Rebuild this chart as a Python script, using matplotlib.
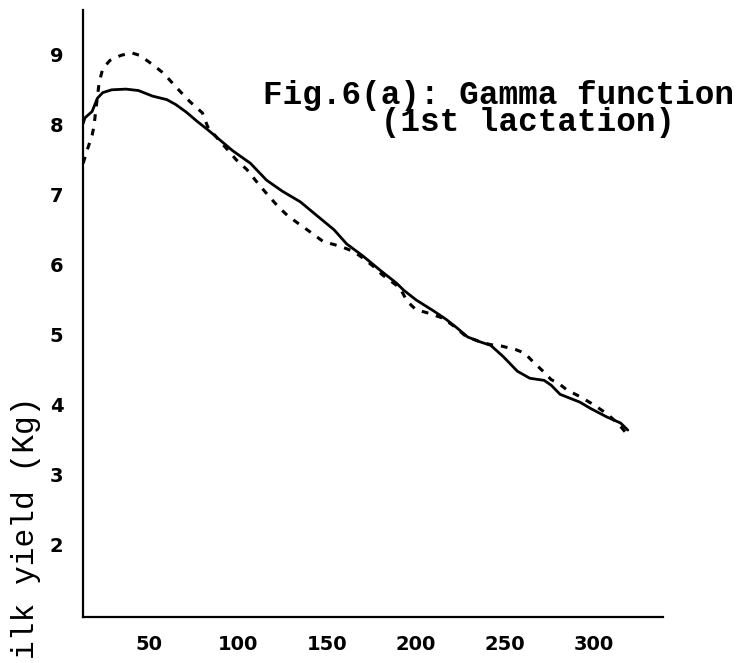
import numpy as np
import matplotlib.pyplot as plt

# solid curve (days, milk yield in kg)
solid_days = [13, 14, 18, 21, 24, 29, 37, 44, 52, 60, 65, 71, 77, 83, 90, 97,
              107, 116, 125, 135, 144, 154, 161, 170, 180, 189, 193, 200, 210,
              217, 223, 229, 236, 242, 249, 257, 264, 272, 276, 281, 292, 298,
              307, 315, 319]
solid_yield = [8.02, 8.10, 8.19, 8.38, 8.46, 8.50, 8.51, 8.49, 8.41, 8.36, 8.29,
               8.18, 8.05, 7.93, 7.78, 7.63, 7.45, 7.21, 7.05, 6.90, 6.71, 6.50,
               6.30, 6.13, 5.92, 5.74, 5.64, 5.50, 5.34, 5.22, 5.10, 4.97, 4.90,
               4.85, 4.69, 4.48, 4.38, 4.35, 4.28, 4.15, 4.04, 3.95, 3.83, 3.74,
               3.64]

# dashed curve
dash_days = [13, 15, 18, 19, 21, 22, 24, 28, 34, 40, 45, 52, 58, 67, 73, 80, 83,
             90, 95, 99, 105, 111, 117, 123, 128, 135, 140, 148, 154, 159, 165,
             170, 176, 181, 191, 195, 200, 207, 215, 221, 228, 236, 242, 248,
             256, 261, 266, 271, 276, 280, 285, 292, 300, 308, 314, 319]
dash_yield = [7.45, 7.62, 7.85, 7.97, 8.40, 8.61, 8.80, 8.92, 8.99, 9.03, 8.99,
              8.86, 8.74, 8.49, 8.33, 8.17, 7.97, 7.76, 7.62, 7.50, 7.36, 7.17,
              6.99, 6.82, 6.70, 6.57, 6.48, 6.33, 6.29, 6.25, 6.19, 6.10, 5.98,
              5.86, 5.67, 5.48, 5.36, 5.31, 5.24, 5.13, 4.98, 4.90, 4.86, 4.84,
              4.79, 4.74, 4.61, 4.49, 4.36, 4.31, 4.21, 4.12, 4.00, 3.86, 3.72,
              3.57]

x_ticks = [50, 100, 150, 200, 250, 300]
y_ticks = [2, 3, 4, 5, 6, 7, 8, 9]

W, H = 740, 663
fig = plt.figure(figsize=(W / 100, H / 100), dpi=100)
ax = fig.add_axes([83 / W, 1 - 617 / H, (663 - 83) / W, (617 - 10) / H])

ax.plot(solid_days, solid_yield, color='black', lw=2.0, solid_capstyle='round')
ax.plot(dash_days, dash_yield, color='black', lw=2.2, linestyle=(0, (2.2, 2.6)))

ax.set_xlim(12.9, 338.8)
ax.set_ylim(0.97, 9.64)
ax.set_xticks(x_ticks)
ax.set_yticks(y_ticks)

tick_font = dict(family='DejaVu Sans', weight='bold', size=14)
ax.set_xticklabels([str(t) for t in x_ticks], **tick_font)
ax.set_yticklabels([str(t) for t in y_ticks], **tick_font)
ax.tick_params(axis='both', length=0)
ax.tick_params(axis='x', pad=13)
ax.tick_params(axis='y', pad=14)

for s in ['top', 'right']:
    ax.spines[s].set_visible(False)
for s in ['left', 'bottom']:
    ax.spines[s].set_linewidth(1.6)

# typed caption, second line indented under the first
fig.text(263 / W, 1 - 131 / H,
         'Fig.6(a): Gamma function\n      (1st lactation)',
         ha='left', va='baseline', multialignment='left', linespacing=0.82,
         family='Liberation Mono', weight='bold', size=23.5)

# y label, as much of it as the scan shows
fig.text(26 / W, 1 - 528 / H, 'ilk yield (Kg)', rotation=90, ha='center',
         va='center', family='Liberation Mono', size=22.5)

fig.savefig('out.png', dpi=100)
